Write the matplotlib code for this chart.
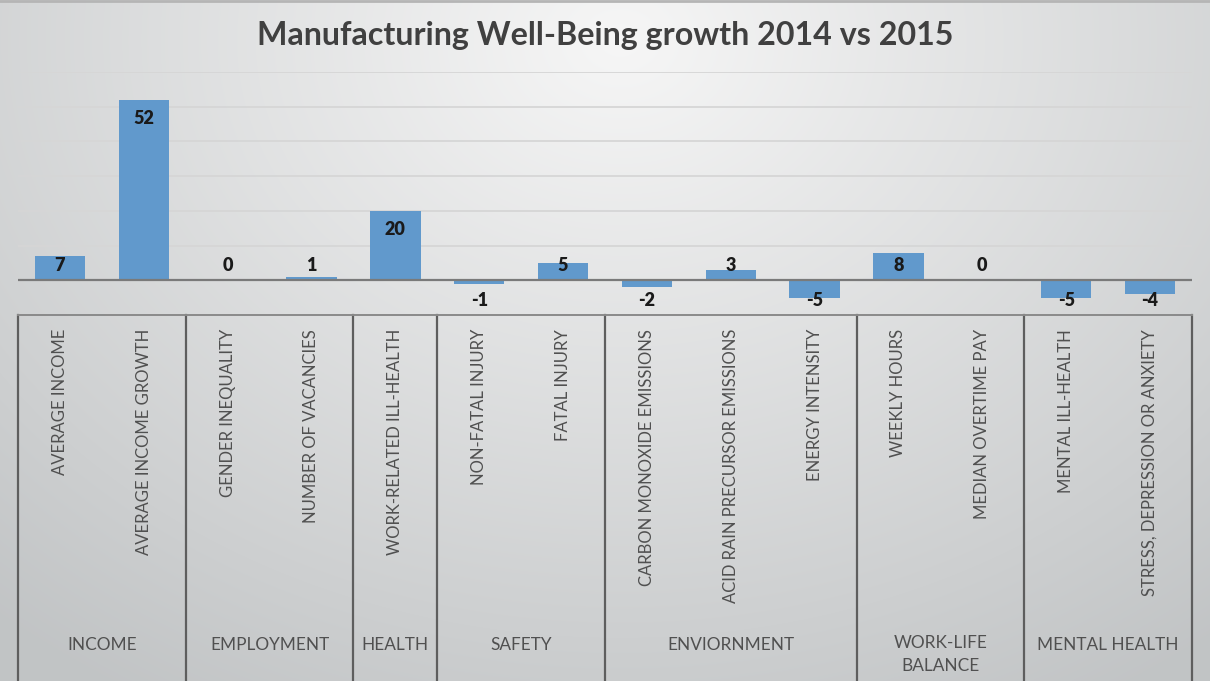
import numpy as np
import matplotlib
matplotlib.use("Agg")
import matplotlib.pyplot as plt

plt.rcParams['font.family'] = ['Lato', 'DejaVu Sans']

# ---- data ----
title = "Manufacturing Well-Being growth 2014 vs 2015"
categories = ["AVERAGE INCOME", "AVERAGE INCOME GROWTH",
              "GENDER INEQUALITY", "NUMBER OF VACANCIES",
              "WORK-RELATED ILL-HEALTH",
              "NON-FATAL INJURY", "FATAL INJURY",
              "CARBON MONOXIDE EMISSIONS", "ACID RAIN PRECURSOR EMISSIONS", "ENERGY INTENSITY",
              "WEEKLY HOURS", "MEDIAN OVERTIME PAY",
              "MENTAL ILL-HEALTH", "STRESS, DEPRESSION OR ANXIETY"]
values = [7, 52, 0, 1, 20, -1, 5, -2, 3, -5, 8, 0, -5, -4]
groups = ["INCOME", "EMPLOYMENT", "HEALTH", "SAFETY", "ENVIORNMENT", "WORK-LIFE\nBALANCE", "MENTAL HEALTH"]
group_sizes = [2, 2, 1, 2, 3, 2, 2]

W, H = 1210, 681
fig = plt.figure(figsize=(W / 100, H / 100), dpi=100)

# background gradient
bg = fig.add_axes([0, 0, 1, 1], zorder=0)
yy, xx = np.mgrid[0:H, 0:W]
d = np.sqrt(((xx - 620) / 1.0) ** 2 + ((yy - 40) * 1.25) ** 2)
t = np.clip(d / 950.0, 0, 1)
c0 = np.array([0.965, 0.965, 0.965])
c1 = np.array([0.76, 0.77, 0.775])
img = c0[None, None, :] * (1 - t[..., None]) + c1[None, None, :] * t[..., None]
bg.imshow(img, extent=[0, W, H, 0], aspect='auto', interpolation='bilinear')
bg.set_xlim(0, W)
bg.set_ylim(H, 0)
bg.axis('off')
bg.plot([0, W], [1, 1], color='#b5b5b5', lw=2)

# main axes
ax_left, ax_right, ax_top, ax_bot = 18, 1192, 72, 315
ax = fig.add_axes([ax_left / W, 1 - ax_bot / H, (ax_right - ax_left) / W, (ax_bot - ax_top) / H], zorder=1)
ax.set_facecolor('none')
n = len(values)
x = np.arange(n)
ax.set_xlim(-0.5, n - 0.5)
ax.set_ylim(-10, 60)

for g in range(10, 61, 10):
    ax.axhline(g, color='#d6d6d6', lw=1.3, zorder=1)

ax.bar(x, values, width=0.6, color='#6199cc', zorder=2)
ax.axhline(0, color='#7a7a7a', lw=1.6, zorder=3)

for s in ['top', 'left', 'right']:
    ax.spines[s].set_visible(False)
ax.spines['bottom'].set_color('#8a8a8a')
ax.spines['bottom'].set_linewidth(1.4)
ax.set_xticks([])
ax.set_yticks([])

# data labels
for xi, v in zip(x, values):
    if v >= 0:
        ypos = max(v - 5.5, 4.3)
    else:
        ypos = -5.8
    ax.text(xi, ypos, str(v), ha='center', va='center', fontsize=13,
            fontweight='heavy', color='#1a1a1a', zorder=4)

ah = ax_bot - ax_top
def frac(px):
    return -(px - ax_bot) / ah

xt = ax.get_xaxis_transform()
for xi, lab in zip(x, categories):
    ax.text(xi, frac(329), lab, rotation=90, ha='center', va='top',
            fontsize=12, color='#505050', transform=xt, clip_on=False)

# group boxes
bounds = np.concatenate([[0], np.cumsum(group_sizes)]) - 0.5
for b in bounds:
    ax.plot([b, b], [0, frac(700)], color='#5e5e5e', lw=1.6, transform=xt, clip_on=False)
for i, gname in enumerate(groups):
    cx = (bounds[i] + bounds[i + 1]) / 2
    if "\n" in gname:
        ax.text(cx, frac(635), gname, ha='center', va='top', fontsize=12.4, color='#505050',
                transform=xt, clip_on=False, linespacing=1.55)
    else:
        ax.text(cx, frac(645), gname, ha='center', va='center', fontsize=12.4, color='#505050',
                transform=xt, clip_on=False)

fig.text(0.5, 1 - 35 / H, title, ha='center', va='center', fontsize=23.2,
         fontweight='bold', color='#404040')

fig.savefig('out.png', dpi=100)
